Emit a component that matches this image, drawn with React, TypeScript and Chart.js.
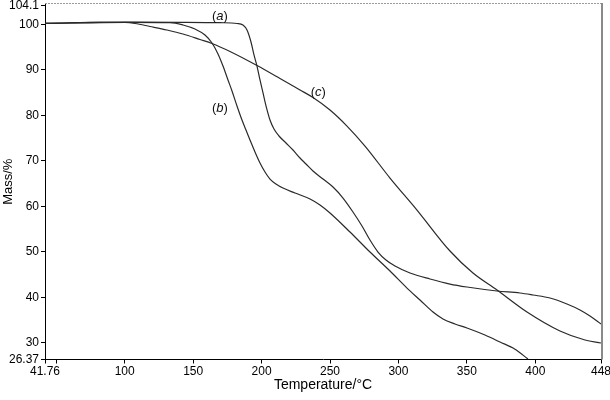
import React, { useEffect, useRef } from "react";
import { Chart, registerables } from "chart.js";
Chart.register(...registerables);

// Curve (a)
const tempA = [41.76, 67.33, 100.21, 140.4, 169.62, 182.04, 186.42, 189.35, 192.27, 194.46, 196.65, 198.85, 201.04, 203.23, 206.15, 209.08, 212.73, 217.84, 222.96, 228.07, 232.46, 237.57, 244.88, 252.18, 259.49, 266.79, 273.37, 279.21, 285.06, 290.9, 297.48, 308.44, 323.05, 337.66, 350.08, 372.0, 388.8, 398.3, 410.72, 423.14, 432.64, 439.95, 448.0];
const massA = [100.22, 100.43, 100.5, 100.48, 100.39, 100.22, 99.89, 98.78, 96.15, 93.3, 90.87, 87.8, 84.95, 82.09, 79.0, 77.02, 75.49, 73.95, 72.41, 70.65, 69.33, 67.79, 66.03, 64.27, 61.86, 58.79, 55.71, 52.63, 49.99, 48.23, 46.91, 45.38, 44.06, 42.95, 42.3, 41.43, 40.98, 40.54, 39.88, 38.56, 37.25, 35.92, 34.16];

// Curve (b)
const tempB = [41.76, 100.21, 133.09, 142.59, 151.35, 158.66, 163.78, 168.16, 171.81, 175.47, 178.39, 182.04, 185.69, 188.61, 191.54, 195.19, 198.85, 202.5, 206.15, 210.53, 215.65, 224.42, 235.38, 242.68, 249.99, 264.6, 279.21, 293.83, 306.25, 315.74, 325.24, 332.55, 341.31, 350.08, 363.23, 374.19, 385.15, 394.65];
const massB = [100.22, 100.48, 100.41, 99.89, 99.0, 97.69, 95.93, 93.52, 90.87, 87.8, 85.39, 82.09, 79.0, 76.81, 74.61, 71.97, 69.55, 67.57, 66.03, 64.94, 64.05, 62.96, 61.64, 60.33, 58.57, 54.39, 49.99, 45.81, 42.07, 39.44, 36.8, 35.27, 34.17, 33.29, 31.75, 30.21, 28.64, 26.47];

// Curve (c)
const tempC = [41.76, 81.94, 100.21, 107.52, 118.47, 130.9, 142.59, 155.01, 163.78, 176.93, 196.65, 213.46, 228.07, 237.57, 249.99, 262.41, 275.56, 293.83, 313.55, 337.66, 354.47, 372.0, 393.92, 418.03, 436.3, 448.0];
const massC = [100.22, 100.48, 100.43, 100.22, 99.56, 98.78, 97.91, 96.7, 95.82, 94.06, 90.98, 88.13, 85.6, 83.95, 81.2, 77.67, 73.28, 66.25, 59.22, 50.21, 45.38, 41.64, 36.8, 32.63, 30.65, 29.99];

const xTicks = [41.76, 50, 100, 150, 200, 250, 300, 350, 400, 448];
const xTickLabels = ["41.76", "", "100", "150", "200", "250", "300", "350", "400", "448"];
const yTicks = [26.37, 30, 40, 50, 60, 70, 80, 90, 100, 104.1];
const yTickLabels = ["26.37", "30", "40", "50", "60", "70", "80", "90", "100", "104.1"];

const curveNames = ["a", "b", "c"];
const labelTemps = [169.6, 169.6, 241.45];
const labelMasses = [101.71, 81.58, 85.0];

const FONT = "'Liberation Sans', Arial, sans-serif";

const toPoints = (t: number[], m: number[]) => t.map((v, i) => ({ x: v, y: m[i] }));

export default function App() {
  const ref = useRef<HTMLCanvasElement | null>(null);
  useEffect(() => {
    if (!ref.current) return;
    const lineStyle = {
      borderColor: "#2a2a2a",
      borderWidth: 1.2,
      pointRadius: 0,
      fill: false,
      cubicInterpolationMode: "monotone" as const,
    };
    const framePlugin = {
      id: "frame",
      afterDatasetsDraw(chart: any) {
        const { ctx, chartArea } = chart;
        ctx.save();
        ctx.strokeStyle = "#9a9a9a";
        ctx.lineWidth = 1;
        ctx.setLineDash([2, 1]);
        ctx.beginPath();
        ctx.moveTo(chartArea.left, chartArea.top - 0.5);
        ctx.lineTo(chartArea.right + 1, chartArea.top - 0.5);
        ctx.stroke();
        ctx.setLineDash([]);
        ctx.strokeStyle = "#8a8a8a";
        ctx.lineWidth = 2;
        ctx.beginPath();
        ctx.moveTo(chartArea.right + 1, chartArea.top - 1);
        ctx.lineTo(chartArea.right + 1, chartArea.bottom);
        ctx.stroke();
        // curve labels
        const xs = chart.scales.x;
        const ys = chart.scales.y;
        ctx.fillStyle = "#111";
        ctx.textBaseline = "middle";
        curveNames.forEach((n, i) => {
          const px = xs.getPixelForValue(labelTemps[i]);
          const py = ys.getPixelForValue(labelMasses[i]);
          const normal = `13px ${FONT}`;
          const italic = `italic 13px ${FONT}`;
          ctx.font = normal;
          const wp = ctx.measureText("(").width;
          const wp2 = ctx.measureText(")").width;
          ctx.font = italic;
          const wl = ctx.measureText(n).width;
          const total = wp + wl + wp2;
          let x = px - total / 2;
          ctx.textAlign = "left";
          ctx.font = normal;
          ctx.fillText("(", x, py);
          x += wp;
          ctx.font = italic;
          ctx.fillText(n, x, py);
          x += wl;
          ctx.font = normal;
          ctx.fillText(")", x, py);
        });
        ctx.restore();
      },
    };
    const chart = new Chart(ref.current, {
      type: "line",
      data: {
        datasets: [
          { label: "(a)", data: toPoints(tempA, massA), ...lineStyle },
          { label: "(b)", data: toPoints(tempB, massB), ...lineStyle },
          { label: "(c)", data: toPoints(tempC, massC), ...lineStyle },
        ],
      },
      options: {
        animation: false,
        responsive: false,
        layout: { padding: { top: 4, right: 9, left: 0, bottom: 0 } },
        plugins: { legend: { display: false }, tooltip: { enabled: false } },
        scales: {
          x: {
            type: "linear",
            min: 41.76,
            max: 448,
            afterBuildTicks: (s: any) => {
              s.ticks = xTicks.map((v) => ({ value: v }));
            },
            afterFit: (s: any) => {
              s.height = 40.5;
              s.paddingLeft = 0;
              s.paddingRight = 0;
            },
            grid: { drawOnChartArea: false, tickLength: 4, color: "#000" },
            border: { color: "#000", width: 1 },
            ticks: {
              autoSkip: false,
              maxRotation: 0,
              padding: 1,
              color: "#000",
              font: { family: FONT, size: 12 },
              callback: (v: any) => {
                const i = xTicks.indexOf(Number(v));
                return i >= 0 ? xTickLabels[i] : "";
              },
            },
            title: {
              display: true,
              text: "Temperature/°C",
              color: "#000",
              font: { family: FONT, size: 14 },
              padding: { top: 0, bottom: 6 },
            },
          },
          y: {
            type: "linear",
            min: 26.37,
            max: 104.5,
            afterBuildTicks: (s: any) => {
              s.ticks = yTicks.map((v) => ({ value: v }));
            },
            afterFit: (s: any) => {
              s.width = 45;
              s.paddingTop = 0;
              s.paddingBottom = 0;
            },
            grid: { drawOnChartArea: false, tickLength: 4, color: "#000" },
            border: { color: "#000", width: 1 },
            ticks: {
              autoSkip: false,
              padding: 2,
              color: "#000",
              font: { family: FONT, size: 12 },
              callback: (v: any) => {
                const i = yTicks.indexOf(Number(v));
                return i >= 0 ? yTickLabels[i] : "";
              },
            },
            title: {
              display: true,
              text: "Mass/%",
              color: "#000",
              font: { family: FONT, size: 13 },
              padding: { top: 1, bottom: 0 },
            },
          },
        },
      },
      plugins: [framePlugin],
    });
    return () => chart.destroy();
  }, []);
  return (
    <div style={{ position: "absolute", left: 0, top: 0, width: 610, height: 400, background: "#fff" }}>
      <canvas ref={ref} width={610} height={400} />
    </div>
  );
}
